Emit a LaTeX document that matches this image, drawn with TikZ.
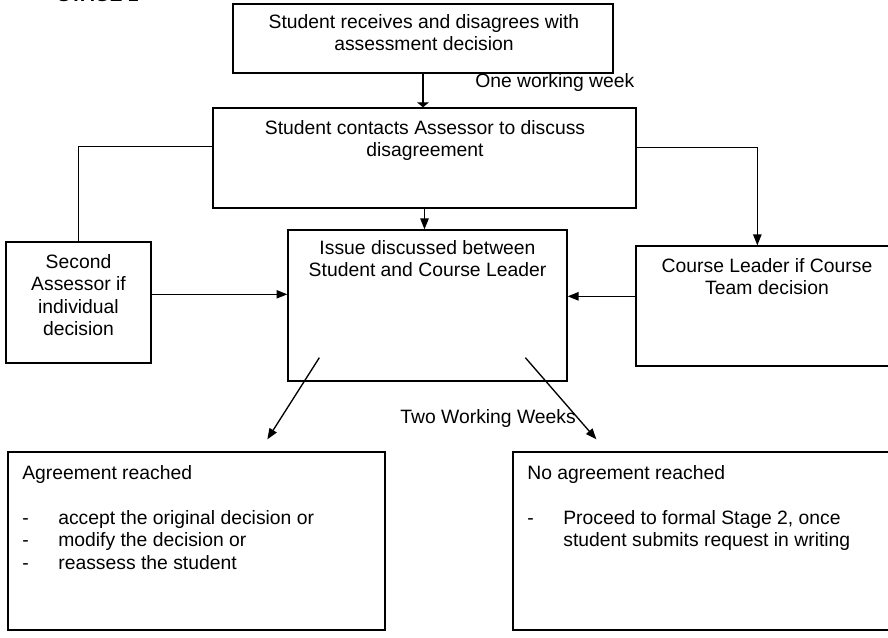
\documentclass[tikz,border=0pt]{standalone}
\usepackage{fontspec}
\setmainfont{Liberation Sans}
\usetikzlibrary{arrows.meta,calc,fit}

\newcommand{\dashline}[1]{\makebox[21.6pt][l]{-}#1}

\begin{document}
\begin{tikzpicture}[x=0.6pt,y=-0.6pt,>={Triangle[length=6.5pt,width=5pt]},
    every node/.style={font=\fontsize{11.6}{13.5}\selectfont},
    box/.style={draw,line width=0.8pt,inner sep=0pt},
    txt/.style={align=center,inner sep=0pt,anchor=north},
    note/.style={align=left,inner sep=0pt,anchor=north west},
    link/.style={line width=0.8pt}]
    \useasboundingbox (0,0) rectangle (888,638);
    % heading, cut by the top of the page
    \node[font=\bfseries\fontsize{11.6}{13.5}\selectfont,anchor=base west,inner sep=0pt]
      (stage) at (57,1.5) {STAGE 1};
    % boxes
    \node[box,fit={(233,4) (613,73)}] (received) {};
    \node[txt] (receivedtxt) at (424,14) {Student receives and disagrees with\\assessment decision};
    \node[box,fit={(213,108) (636,208)}] (contacts) {};
    \node[txt] (contactstxt) at (425,120) {Student contacts Assessor to discuss\\disagreement};
    \node[box,fit={(6,242) (151,363)}] (second) {};
    \node[txt] (secondtxt) at (78.5,254) {Second\\Assessor if\\individual\\decision};
    \node[box,fit={(288,230) (567,381)}] (issue) {};
    \node[txt] (issuetxt) at (427.5,240) {Issue discussed between\\Student and Course Leader};
    \node[box,fit={(636,246) (893,366)}] (course) {};
    \node[txt] (coursetxt) at (767,258) {Course Leader if Course\\Team decision};
    \node[box,fit={(8,452) (385,630)}] (agree) {};
    \node[note] (agreetxt) at (22,465) {Agreement reached\\[13.5pt]
      \dashline{accept the original decision or}\\
      \dashline{modify the decision or}\\
      \dashline{reassess the student}};
    \node[box,fit={(513,452) (893,630)}] (noagree) {};
    \node[note] (noagreetxt) at (527,465) {No agreement reached\\[13.5pt]
      \dashline{Proceed to formal Stage 2, once}\\
      \hspace*{21.6pt}student submits request in writing};
    % time labels
    \node[anchor=west,inner sep=0pt] (oneweek) at (475,83) {One working week};
    \node[anchor=west,inner sep=0pt] (twoweeks) at (400,418) {Two Working Weeks};
    % connectors
    \draw[link,-{Triangle[length=3pt,width=7pt]}] (received.south) -- (received.south |- contacts.north);
    \draw[link,->] (contacts.south) -- (contacts.south |- issue.north);
    \draw[link] ($(contacts.north west)+(0,39)$) -| (second.north);
    \draw[link,->] ($(contacts.north east)+(0,40)$) -| ($(course.north west)+(122,0)$);
    \draw[link,->] ($(second.north east)+(0,53)$) coordinate (fromsecond) -- (fromsecond -| issue.west);
    \draw[link,->] ($(course.north west)+(0,51)$) coordinate (fromcourse) -- (fromcourse -| issue.east);
    \draw[link,->] ($(issue.south west)+(32,-24)$) -- ($(agree.north west)+(260,-12)$);
    \draw[link,->] ($(issue.south west)+(238,-24)$) -- ($(noagree.north west)+(84,-12)$);
  \end{tikzpicture}
\end{document}
